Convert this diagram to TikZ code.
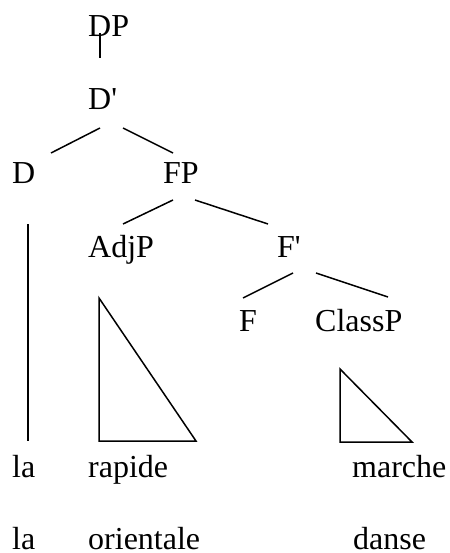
\documentclass[tikz,border=0pt]{standalone}
\usepackage{fontspec}
\setmainfont{Liberation Serif}[Ligatures=TeXOff]
\begin{document}
\begin{tikzpicture}[x=1pt,y=-1pt,
  lbl/.style={anchor=base west,inner sep=0pt,font=\fontsize{32}{38}\selectfont},
  edge/.style={line width=1.5pt,line cap=butt},
  tri/.style={line width=1.5pt,line join=miter}]
\useasboundingbox (0,0) rectangle (449,553);
% labels
\node[lbl] (DP) at (88,37) {DP};
\node[lbl] (Dbar) at (88,110) {D'};
\node[lbl] (D) at (12,184) {D};
\node[lbl] (FP) at (163,184) {FP};
\node[lbl] (AdjP) at (88,257) {AdjP};
\node[lbl] (Fbar) at (277,257) {F'};
\node[lbl] (F) at (239,331) {F};
\node[lbl] (ClassP) at (315,331) {ClassP};
\node[lbl] (la1) at (12,477) {la};
\node[lbl] (rapide) at (88,477) {rapide};
\node[lbl] (marche) at (352,477) {marche};
\node[lbl] (la2) at (12,549) {la};
\node[lbl] (orientale) at (88,549) {orientale};
\node[lbl] (danse) at (353,549) {danse};
% connector end points
\coordinate (dpA) at (100,33);  \coordinate (dpB) at (100,58);
\coordinate (dbL1) at (100,128); \coordinate (dbL2) at (51,153);
\coordinate (dbR1) at (123,128); \coordinate (dbR2) at (173,153);
\coordinate (fpL1) at (173,200); \coordinate (fpL2) at (123,224);
\coordinate (fpR1) at (195,200); \coordinate (fpR2) at (268,224);
\coordinate (fbL1) at (293,273); \coordinate (fbL2) at (243,298);
\coordinate (fbR1) at (316,273); \coordinate (fbR2) at (388,297);
\coordinate (dA) at (28,224); \coordinate (dB) at (28,441);
\coordinate (t1a) at (99,298); \coordinate (t1b) at (99,441); \coordinate (t1c) at (196,441);
\coordinate (t2a) at (340,369); \coordinate (t2b) at (340,442); \coordinate (t2c) at (412,442);
% branches
\draw[edge] (dpA) -- (dpB);
\draw[edge] (dbL1) -- (dbL2);
\draw[edge] (dbR1) -- (dbR2);
\draw[edge] (fpL1) -- (fpL2);
\draw[edge] (fpR1) -- (fpR2);
\draw[edge] (fbL1) -- (fbL2);
\draw[edge] (fbR1) -- (fbR2);
\draw[edge] (dA) -- (dB);
\draw[tri] (t1a) -- (t1b) -- (t1c) -- cycle;
\draw[tri] (t2a) -- (t2b) -- (t2c) -- cycle;
\end{tikzpicture}
\end{document}
